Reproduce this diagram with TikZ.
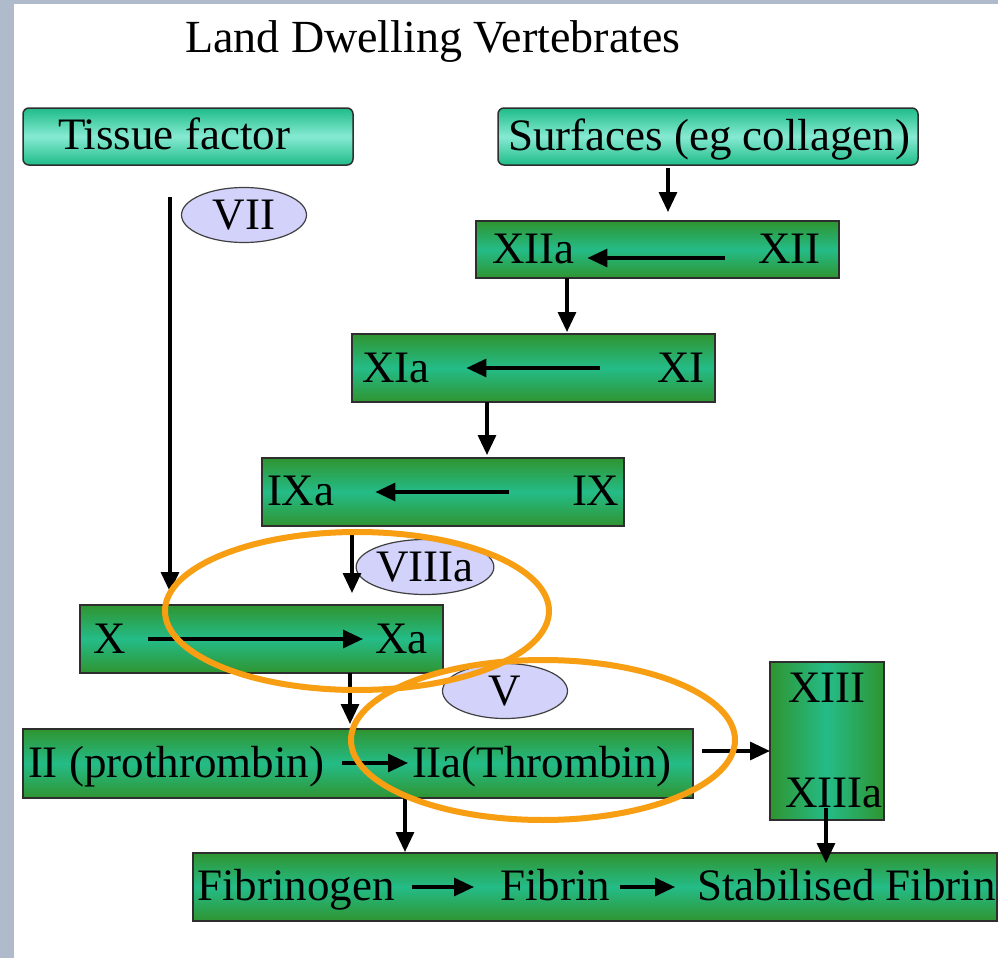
\documentclass[tikz,border=0pt]{standalone}
\usepackage{fontspec}
\setmainfont{Liberation Serif}
\usetikzlibrary{shapes.geometric,arrows.meta,calc}
\definecolor{stripc}{HTML}{AFBACB}
\definecolor{boxline}{HTML}{2E2E2E}
\definecolor{tealout}{HTML}{1FBC88}
\definecolor{tealin}{HTML}{86EAD2}
\definecolor{grout}{HTML}{2F9430}
\definecolor{grin}{HTML}{24BC88}
\definecolor{lav}{HTML}{D2D2FA}
\definecolor{ellline}{HTML}{404040}
\definecolor{ringc}{HTML}{F89E12}
\begin{document}
\begin{tikzpicture}[x=0.5pt,y=-0.5pt,
  font=\fontsize{22.5}{26}\selectfont,
  lbl/.style={anchor=base west, inner sep=0pt, outer sep=0pt},
  tealbox/.style={draw=boxline, line width=0.75pt, rounded corners=3pt,
    top color=tealout, bottom color=tealout, middle color=tealin,
    inner sep=0pt, outer sep=0pt},
  greenbox/.style={draw=boxline, line width=0.75pt,
    top color=grout, bottom color=grout, middle color=grin,
    inner sep=0pt, outer sep=0pt},
  vgreenbox/.style={draw=boxline, line width=0.75pt,
    left color=grout, right color=grout, middle color=grin,
    inner sep=0pt, outer sep=0pt},
  cofac/.style={ellipse, draw=ellline, line width=0.6pt, fill=lav,
    minimum width=62.5pt, minimum height=27.5pt, inner sep=0pt},
  arr/.style={line width=1.6pt, -{Triangle[length=10pt,width=9pt]}},
  ring/.style={draw=ringc, line width=3pt}]
\useasboundingbox (0,0) rectangle (998,958);
\fill[white] (0,0) rectangle (998,958);
\fill[stripc] (0,0) rectangle (14,958);
\fill[stripc] (0,0) rectangle (998,3.5);

\node[lbl, font=\fontsize{23}{27}\selectfont] (title) at (185,53) {Land Dwelling Vertebrates};

% boxes
\node[tealbox, minimum width=165pt, minimum height=28.5pt] (tissue) at (188,136.5) {};
\node[tealbox, minimum width=210pt, minimum height=28.5pt] (surf) at (708,136.5) {};
\node[greenbox, minimum width=181.5pt, minimum height=28.5pt] (b12) at (657.5,249.5) {};
\node[greenbox, minimum width=181.5pt, minimum height=34pt] (b11) at (533.5,368) {};
\node[greenbox, minimum width=181pt, minimum height=34pt] (b9) at (443,492) {};
\node[greenbox, minimum width=181.5pt, minimum height=34pt] (b10) at (261.5,639) {};
\node[greenbox, minimum width=335pt, minimum height=34.5pt] (b2) at (358,763.5) {};
\node[vgreenbox, minimum width=57pt, minimum height=79pt] (b13) at (827,741) {};
\node[greenbox, minimum width=402pt, minimum height=34pt] (bfib) at (595,887) {};

% texts
\node[lbl] (ttis) at (58,149) {Tissue factor};
\node[lbl] (tsurf) at (508,150) {Surfaces (eg collagen)};
\node[lbl] (t12a) at (492,263) {XIIa};
\node[lbl] (t12) at (758,263) {XII};
\node[lbl] (t11a) at (362,382) {XIa};
\node[lbl] (t11) at (657,382) {XI};
\node[lbl] (t9a) at (267,505) {IXa};
\node[lbl] (t9) at (572,505) {IX};
\node[lbl] (t10) at (93,653) {X};
\node[lbl] (t10a) at (375,653) {Xa};
\node[lbl] (t2) at (28,777) {II (prothrombin)};
\node[lbl] (t2a) at (412,777) {IIa(Thrombin)};
\node[lbl] (t13) at (788,702) {XIII};
\node[lbl] (t13a) at (785,807) {XIIIa};
\node[lbl] (tfg) at (197,900) {Fibrinogen};
\node[lbl] (tfb) at (500,900) {Fibrin};
\node[lbl] (tsf) at (697,900) {Stabilised Fibrin};

% cofactors
\node[cofac] (c7) at (244,215) {VII};
\node[cofac] (c8) at (425,567) {VIIIa};
\node[cofac] (c5) at (505,691) {V};

% inner arrows
\draw[arr] ($(t12.base west)+(-33,-5)$) -- ($(t12a.base east)+(13,-5)$);
\draw[arr] ($(t11.base west)+(-57,-14)$) -- ($(t11a.base east)+(37,-14)$);
\draw[arr] ($(t9.base west)+(-63,-13)$) -- ($(t9a.base east)+(41,-13)$);
\draw[arr] ($(t10.base east)+(23,-14)$) -- ($(t10a.base west)+(-12,-14)$);
\draw[arr] ($(t2.base east)+(18,-14)$) -- ($(t2a.base west)+(-4,-14)$);
\draw[arr] ($(tfg.base east)+(18,-13)$) -- ($(tfb.base west)+(-26,-13)$);
\draw[arr] ($(tfb.base east)+(10,-13)$) -- ($(tsf.base west)+(-22,-13)$);

% connectors
\draw[arr] ($(surf.south)+(-40,3)$) -- ($(b12.north)+(10.5,-9)$);
\draw[arr] ($(b12.south)+(-90.5,0)$) -- ($(b11.north)+(33.5,-2)$);
\draw[arr] ($(b11.south)+(-46.5,0)$) -- ($(b9.north)+(44,-3)$);
\draw[arr] ($(b9.south)+(-91,4)$) -- ($(b10.north)+(90.5,-12)$);
\draw[arr] ($(b10.south)+(88.5,0)$) -- ($(b2.north)+(-8,-5)$);
\draw[arr] ($(b2.south)+(47,0)$) -- ($(bfib.north)+(-190,-1)$);
\draw[arr] ($(b13.south)+(-1,-12)$) -- ($(bfib.north)+(231,10)$);
\draw[arr] ($(b2.east)+(9,-12.5)$) -- ($(b13.west)+(0,10)$);
\draw[arr] ($(tissue.south)+(-18,32)$) -- ($(b10.north)+(-91.5,-13)$);

% orange rings
\draw[ring] (357,611) ellipse [x radius=96pt, y radius=39.5pt];
\draw[ring] (543,740) ellipse [x radius=96pt, y radius=40pt];
\end{tikzpicture}
\end{document}
